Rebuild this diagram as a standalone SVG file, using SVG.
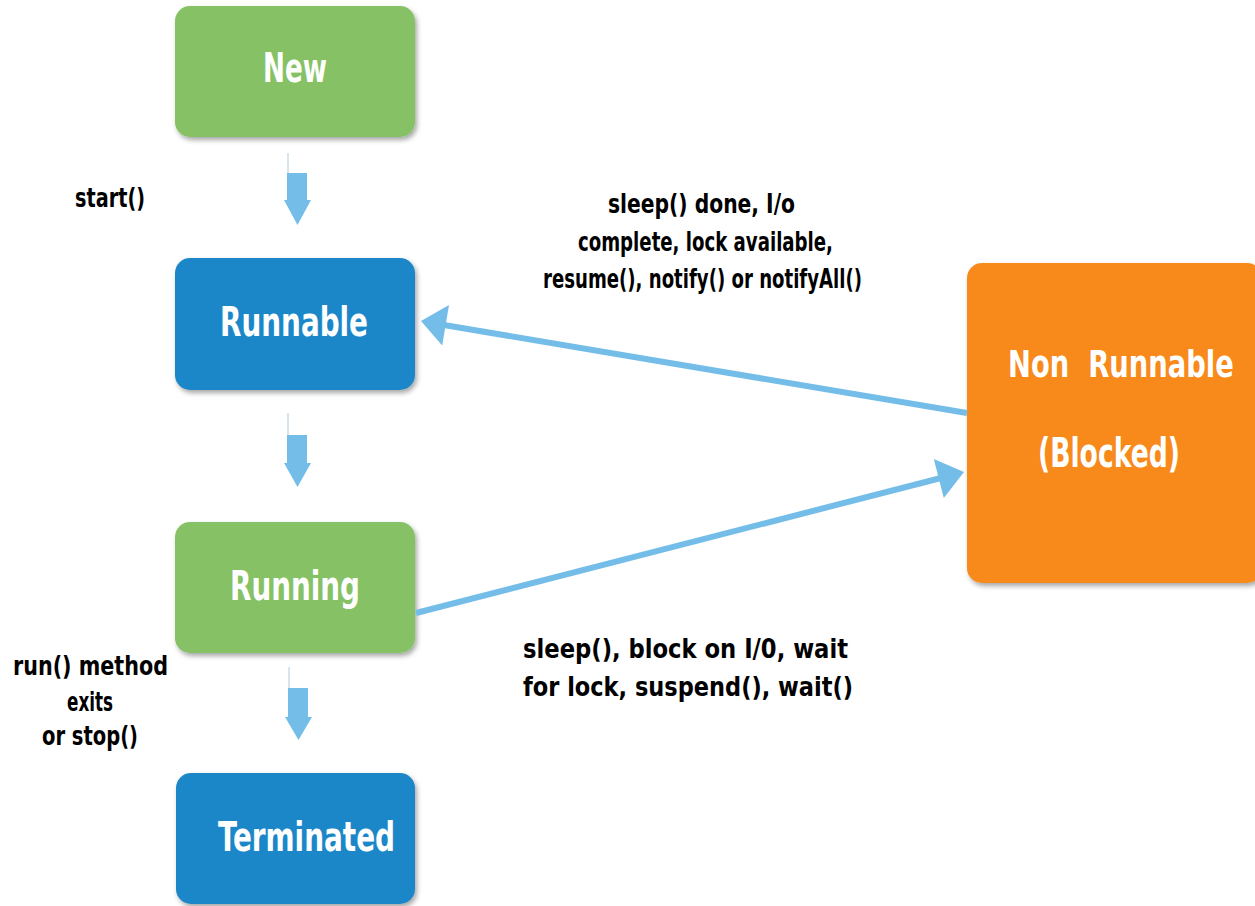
<svg xmlns="http://www.w3.org/2000/svg" width="1255" height="906" viewBox="0 0 1255 906">
  <style>
    .node-label { font-family: "Liberation Sans Narrow", "DejaVu Sans Condensed", "Open Sans", sans-serif; font-stretch: condensed; font-weight: bold; font-size: 40px; fill: #ffffff; }
    .edge-label { font-family: "Liberation Sans Narrow", "DejaVu Sans Condensed", "Open Sans", sans-serif; font-stretch: condensed; font-weight: bold; font-size: 27px; fill: #000000; }
    .green { fill: #86c265; }
    .blue { fill: #1e87c8; }
    .orange { fill: #f88a1f; }
    .lead { stroke: #c9dce8; stroke-width: 1.5; }
    .shaft { fill: #74bde9; }
    .link { stroke: #74bde9; stroke-width: 6; fill: none; }
  </style>
  <defs>
    <filter id="shadow" x="-10%" y="-10%" width="125%" height="125%">
      <feDropShadow dx="2" dy="3" stdDeviation="2.5" flood-color="#000000" flood-opacity="0.35"/>
    </filter>
  </defs>
  <rect width="1255" height="906" fill="#ffffff"/>

  <!-- state nodes -->
  <g id="node-new">
    <rect class="green" x="175" y="6" width="240" height="131" rx="15" filter="url(#shadow)"/>
    <text class="node-label" x="263" y="82" textLength="64" lengthAdjust="spacingAndGlyphs">New</text>
  </g>
  <g id="node-runnable">
    <rect class="blue" x="175" y="258" width="240" height="132" rx="15" filter="url(#shadow)"/>
    <text class="node-label" x="220" y="336" textLength="148" lengthAdjust="spacingAndGlyphs">Runnable</text>
  </g>
  <g id="node-running">
    <rect class="green" x="175" y="522" width="240" height="131" rx="15" filter="url(#shadow)"/>
    <text class="node-label" x="230" y="600" textLength="130" lengthAdjust="spacingAndGlyphs">Running</text>
  </g>
  <g id="node-terminated">
    <rect class="blue" x="176" y="773" width="239" height="131" rx="15" filter="url(#shadow)"/>
    <text class="node-label" x="218" y="851" textLength="177" lengthAdjust="spacingAndGlyphs">Terminated</text>
  </g>
  <g id="node-blocked">
    <rect class="orange" x="967" y="263" width="295" height="320" rx="15" filter="url(#shadow)"/>
    <!-- narrowed horizontally so the wide label stays inside the frame -->
    <text class="node-label" transform="translate(1008,377) scale(0.76,1)" x="0" y="0" style="font-size:38px" textLength="297" lengthAdjust="spacingAndGlyphs" xml:space="preserve">Non  Runnable</text>
    <text class="node-label" x="1038" y="467" textLength="142" lengthAdjust="spacingAndGlyphs">(Blocked)</text>
  </g>

  <!-- transitions -->
  <g id="connectors">
    <!-- New -> Runnable -->
    <line class="lead" x1="288" y1="153" x2="288" y2="174"/>
    <rect class="shaft" x="287" y="173" width="20" height="28"/>
    <polygon class="shaft" points="284,200 311,200 297.5,225"/>
    <!-- Runnable -> Running -->
    <line class="lead" x1="288" y1="413" x2="288" y2="436"/>
    <rect class="shaft" x="287" y="435" width="20" height="29"/>
    <polygon class="shaft" points="284,463 311,463 297.5,487"/>
    <!-- Running -> Terminated -->
    <line class="lead" x1="289" y1="667" x2="289" y2="689"/>
    <rect class="shaft" x="288" y="688" width="20" height="30"/>
    <polygon class="shaft" points="285,717 312,717 298.5,740"/>
    <!-- Non Runnable -> Runnable -->
    <line class="link" x1="967" y1="413" x2="444" y2="325"/>
    <polygon class="shaft" points="421,321 449,305 442.2,345.4"/>
    <!-- Running -> Non Runnable -->
    <line class="link" x1="416" y1="613" x2="941" y2="478"/>
    <polygon class="shaft" points="964,472 933.8,459.1 943.8,497.9"/>
  </g>

  <!-- transition labels -->
  <g id="labels">
    <text class="edge-label" x="75" y="207" textLength="70" lengthAdjust="spacingAndGlyphs">start()</text>
    <text class="edge-label" x="608" y="213" textLength="187" lengthAdjust="spacingAndGlyphs">sleep() done, I/o</text>
    <text class="edge-label" x="578" y="251" textLength="255" lengthAdjust="spacingAndGlyphs">complete, lock available,</text>
    <text class="edge-label" x="543" y="288" textLength="319" lengthAdjust="spacingAndGlyphs">resume(), notify() or notifyAll()</text>
    <text class="edge-label" x="523" y="658" textLength="325" lengthAdjust="spacingAndGlyphs">sleep(), block on I/0, wait</text>
    <text class="edge-label" x="523" y="696" textLength="330" lengthAdjust="spacingAndGlyphs">for lock, suspend(), wait()</text>
    <text class="edge-label" x="13" y="675" textLength="155" lengthAdjust="spacingAndGlyphs">run() method</text>
    <text class="edge-label" x="67" y="711" textLength="46" lengthAdjust="spacingAndGlyphs">exits</text>
    <text class="edge-label" x="42" y="745" textLength="96" lengthAdjust="spacingAndGlyphs">or stop()</text>
  </g>
</svg>
